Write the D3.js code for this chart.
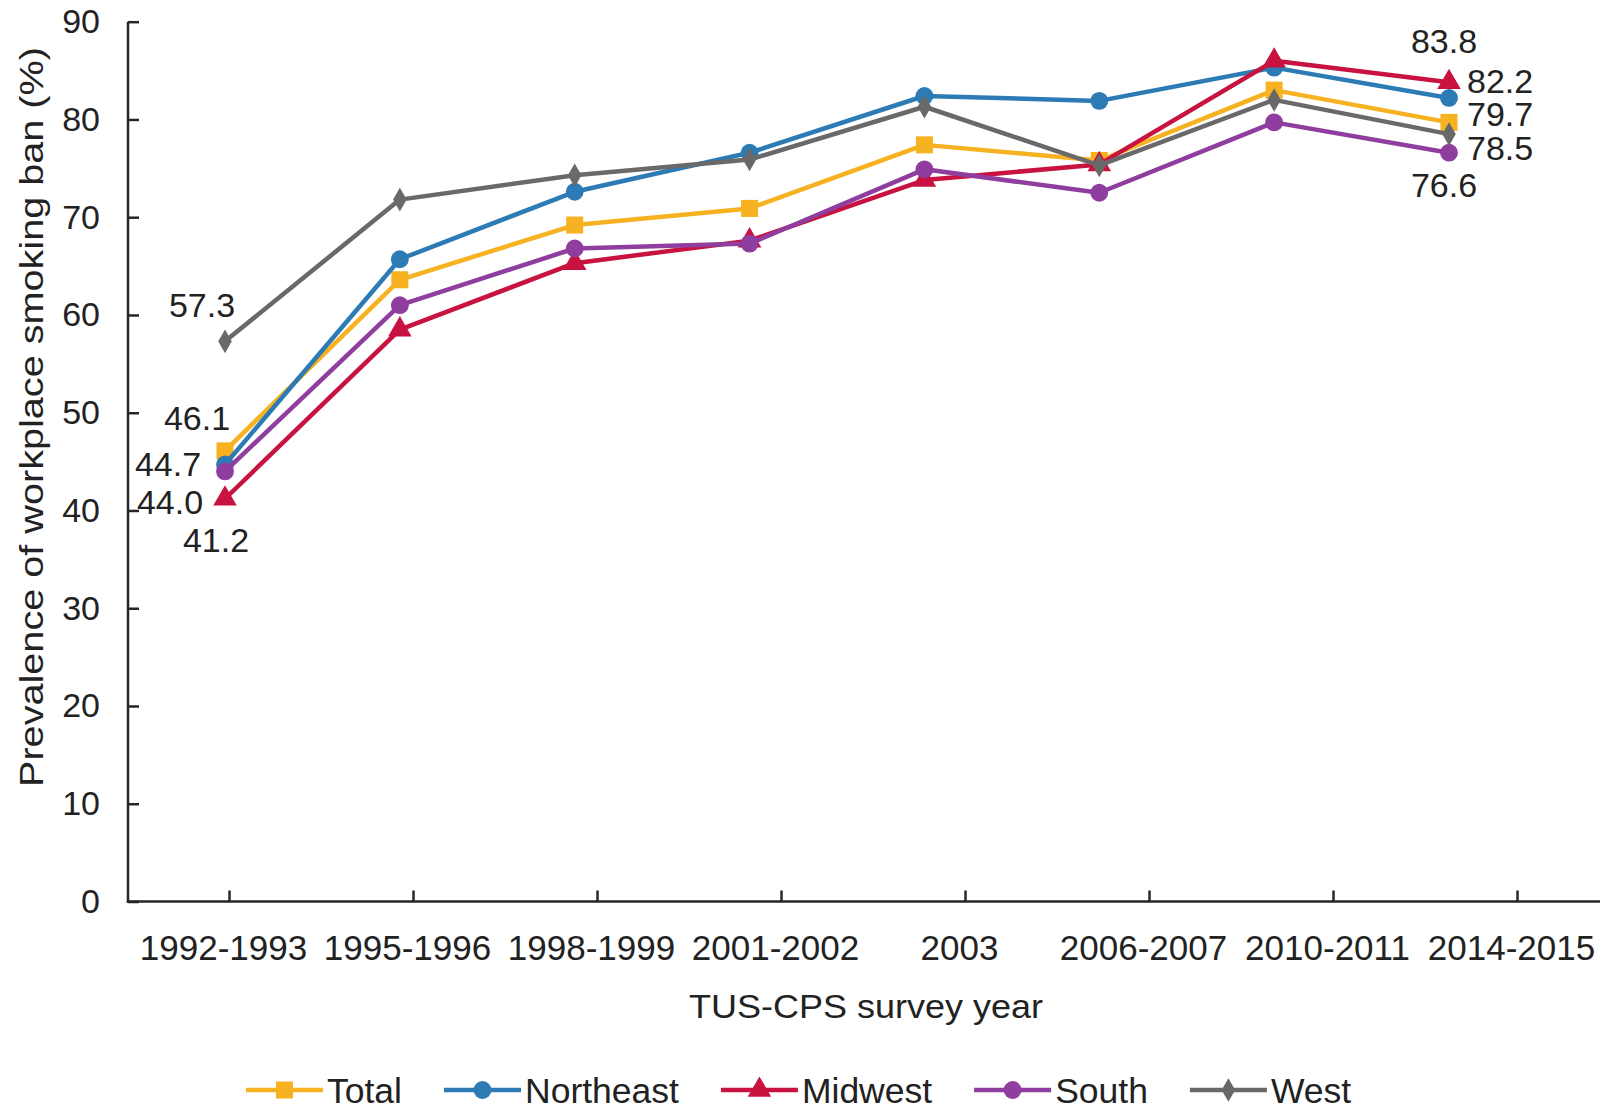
<!DOCTYPE html>
<html>
<head>
<meta charset="utf-8">
<script src="https://cdn.jsdelivr.net/npm/d3@7"></script>
<style>
  html, body { margin: 0; padding: 0; background: #ffffff; }
  svg { display: block; }
  text { font-family: "Liberation Sans", Arial, Helvetica, sans-serif; fill: #222222; }
</style>
</head>
<body>
<svg id="chart" width="1606" height="1110"></svg>
<script>
// ---------------- data ----------------
const categories = ["1992-1993","1995-1996","1998-1999","2001-2002","2003","2006-2007","2010-2011","2014-2015"];
const seriesNames = ["Total","Northeast","Midwest","South","West"];
const totalValues     = [46.1, 63.6, 69.2, 70.9, 77.4, 75.8, 83.0, 79.7];
const northeastValues = [44.7, 65.7, 72.6, 76.6, 82.4, 81.9, 85.3, 82.2];
const midwestValues   = [41.2, 58.5, 65.3, 67.6, 73.8, 75.4, 86.0, 83.8];
const southValues     = [44.0, 61.0, 66.8, 67.3, 74.9, 72.5, 79.7, 76.6];
const westValues      = [57.3, 71.8, 74.3, 75.9, 81.3, 75.3, 82.0, 78.5];
const yTicks = [0,10,20,30,40,50,60,70,80,90];
const yTitle = "Prevalence of workplace smoking ban (%)";
const xTitle = "TUS-CPS survey year";

// ---------------- styles ----------------
const colors = { Total: "#F6B221", Northeast: "#2D7BB5", Midwest: "#C8123F", South: "#8F3D9E", West: "#696969" };
const symbols = { Total: d3.symbolSquare, Northeast: d3.symbolCircle, Midwest: d3.symbolTriangle, South: d3.symbolCircle, West: d3.symbolDiamond };
const symbolSizes = { Total: 290, Northeast: 250, Midwest: 240, South: 250, West: 160 };
const valuesBySeries = { Total: totalValues, Northeast: northeastValues, Midwest: midwestValues, South: southValues, West: westValues };

// annotations: which point gets a printed label, and where the text sits relative to it
const annotations = [
  { s: "West",      i: 0, dx: -23, dy: -37, anchor: "middle" },
  { s: "Total",     i: 0, dx: -28, dy: -33, anchor: "middle" },
  { s: "Northeast", i: 0, dx: -57, dy: -1,  anchor: "middle" },
  { s: "South",     i: 0, dx: -55, dy: 30,  anchor: "middle" },
  { s: "Midwest",   i: 0, dx: -9,  dy: 41,  anchor: "middle" },
  { s: "Midwest",   i: 7, dx: -5,  dy: -42, anchor: "middle" },
  { s: "Northeast", i: 7, dx: 18,  dy: -17, anchor: "start" },
  { s: "Total",     i: 7, dx: 18,  dy: -9,  anchor: "start" },
  { s: "West",      i: 7, dx: 18,  dy: 14,  anchor: "start" },
  { s: "South",     i: 7, dx: -5,  dy: 32,  anchor: "middle" }
];

const FS = 34;
const FS_X = 35;
const FS_LEG = 35.5;
const svg = d3.select("#chart");

// ---------------- scales ----------------
const axisX0 = 128, axisX1 = 1600, axisY0 = 901.5, axisYTop = 21.7;
const y = d3.scaleLinear().domain([0, 90]).range([axisY0, axisYTop]);
const xData = d3.scalePoint().domain(categories).range([225, 1449]);
const xAxisScale = d3.scalePoint().domain(categories).range([229, 1517]);

// ---------------- axes ----------------
const axisColor = "#262626";

const yAxisG = svg.append("g").attr("transform", `translate(${axisX0},0)`)
  .call(d3.axisLeft(y).tickValues(yTicks).tickSizeInner(-11).tickSizeOuter(0).tickPadding(28));
yAxisG.select(".domain").remove();
yAxisG.selectAll(".tick line").attr("stroke", axisColor).attr("stroke-width", 2.5);
yAxisG.selectAll(".tick text").attr("font-size", FS).attr("fill", "#222")
  .style("font-family", '"Liberation Sans", Arial, sans-serif');

const xAxisG = svg.append("g").attr("transform", `translate(0,${axisY0})`)
  .call(d3.axisBottom(xAxisScale).tickSizeInner(-11).tickSizeOuter(0).tickPadding(0));
xAxisG.select(".domain").remove();
xAxisG.selectAll(".tick line").attr("stroke", axisColor).attr("stroke-width", 2.5);
xAxisG.selectAll(".tick text").attr("font-size", FS_X).attr("fill", "#222")
  .attr("x", -6).attr("y", 58).attr("dy", 0)
  .style("font-family", '"Liberation Sans", Arial, sans-serif');

// axis lines
svg.append("line").attr("x1", axisX0).attr("x2", axisX0).attr("y1", axisYTop).attr("y2", axisY0 + 1.2)
  .attr("stroke", axisColor).attr("stroke-width", 2.5);
svg.append("line").attr("x1", axisX0 - 1.2).attr("x2", axisX1).attr("y1", axisY0).attr("y2", axisY0)
  .attr("stroke", axisColor).attr("stroke-width", 2.5);

// titles
svg.append("text")
  .attr("transform", `translate(43,417) rotate(-90)`)
  .attr("text-anchor", "middle")
  .attr("font-size", FS)
  .attr("textLength", 740).attr("lengthAdjust", "spacingAndGlyphs")
  .text(yTitle);
svg.append("text")
  .attr("x", 866).attr("y", 1018)
  .attr("text-anchor", "middle")
  .attr("font-size", FS)
  .attr("textLength", 354).attr("lengthAdjust", "spacingAndGlyphs")
  .text(xTitle);

// ---------------- series ----------------
const line = d3.line().x((d, i) => xData(categories[i])).y(d => y(d));
seriesNames.forEach(name => {
  const vals = valuesBySeries[name];
  const g = svg.append("g");
  g.append("path").datum(vals).attr("d", line)
    .attr("fill", "none").attr("stroke", colors[name]).attr("stroke-width", 4.5)
    .attr("stroke-linejoin", "round");
  g.selectAll("path.pt").data(vals).join("path").attr("class", "pt")
    .attr("d", d3.symbol().type(symbols[name]).size(symbolSizes[name]))
    .attr("transform", (d, i) => `translate(${xData(categories[i])},${y(d)})`)
    .attr("fill", colors[name]);
});

// ---------------- value labels ----------------
svg.append("g").selectAll("text").data(annotations).join("text")
  .attr("x", a => xData(categories[a.i]) + a.dx)
  .attr("y", a => y(valuesBySeries[a.s][a.i]) + a.dy)
  .attr("dy", "0.36em")
  .attr("text-anchor", a => a.anchor)
  .attr("font-size", FS)
  .text(a => valuesBySeries[a.s][a.i].toFixed(1));

// ---------------- legend ----------------
const legend = svg.append("g");
let lx = 246;
const ly = 1090;
seriesNames.forEach(name => {
  const g = legend.append("g");
  g.append("line").attr("x1", lx).attr("x2", lx + 77).attr("y1", ly).attr("y2", ly)
    .attr("stroke", colors[name]).attr("stroke-width", 4.5);
  g.append("path").attr("d", d3.symbol().type(symbols[name]).size(symbolSizes[name]))
    .attr("transform", `translate(${lx + 38.5},${ly})`).attr("fill", colors[name]);
  const t = g.append("text").attr("x", lx + 81).attr("y", ly).attr("dy", "0.36em")
    .attr("font-size", FS_LEG).text(name);
  const w = t.node().getComputedTextLength();
  lx = lx + 81 + w + 42;
});
</script>
</body>
</html>
